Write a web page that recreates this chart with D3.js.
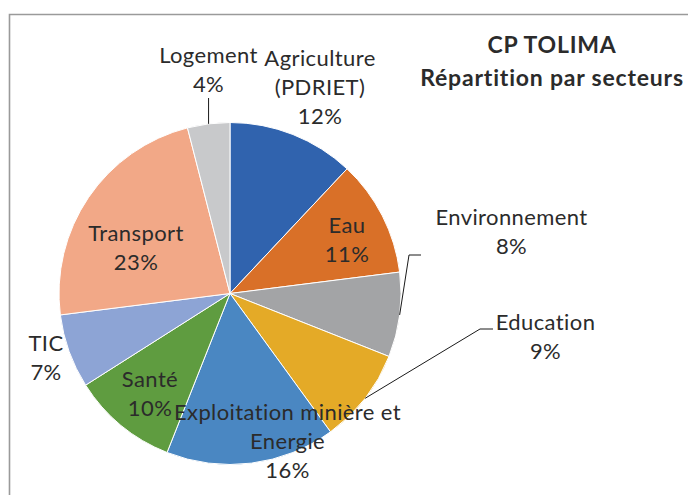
<!DOCTYPE html>
<html>
<head>
<meta charset="utf-8">
<script src="https://cdn.jsdelivr.net/npm/d3@7"></script>
<style>
  html, body { margin: 0; padding: 0; background: #fff; }
  svg { display: block; }
  text { font-family: Lato, "Open Sans", sans-serif; fill: #2b2b2b; }
</style>
</head>
<body>
<svg id="chart" width="688" height="495"></svg>
<script>
// Sector shares (%) of the CP Tolima portfolio, clockwise from 12 o'clock
const categories = ["Agriculture (PDRIET)", "Eau", "Environnement", "Education",
  "Exploitation minière et Energie", "Santé", "TIC", "Transport", "Logement"];
const shares = [12, 11, 8, 9, 16, 10, 7, 23, 4];
// Label text split into lines as displayed
const labelLines = [["Agriculture", "(PDRIET)"], ["Eau"], ["Environnement"], ["Education"],
  ["Exploitation minière et", "Energie"], ["Santé"], ["TIC"], ["Transport"], ["Logement"]];
const sliceColors = ["#3063ae", "#d97028", "#a3a4a6", "#e4aa27", "#4a87c2",
  "#5f9c40", "#8da4d5", "#f2a887", "#c8c9cb"];
const titleLines = ["CP TOLIMA", "Répartition par secteurs"];

// Layout: label anchors (centre x, first baseline y) and leader-line bends
const labelAnchors = [[320, 66], [347, 233], [511.5, 225], [545.5, 330], [287.5, 420],
  [150, 387], [46, 351], [136, 241], [208.5, 63]];
const leaderBends = { 2: [[409, 255], [421, 255]], 3: [[480, 329], [493, 329]], 8: "up" };

const W = 688, H = 495;
const cx = 230, cy = 293.5, R = 171;
const lineGap = 29;
const svg = d3.select("#chart");

// Chart frame (only the top and left edges fall inside the view)
svg.append("path")
  .attr("d", `M9.5,${H} V14.5 H${W}`)
  .attr("fill", "none").attr("stroke", "#9a9a9a").attr("stroke-width", 1.6);

const pie = d3.pie().sort(null).value(d => d)(shares);
const arc = d3.arc().innerRadius(0).outerRadius(R);
const g = svg.append("g").attr("transform", `translate(${cx},${cy})`);

g.selectAll("path.slice").data(pie).join("path")
  .attr("class", "slice")
  .attr("d", arc)
  .attr("fill", (d, i) => sliceColors[i])
  .attr("stroke", "#ffffff").attr("stroke-width", 1);

// Leader lines from slice rim to outside labels
const rimPoint = d => {
  const a = (d.startAngle + d.endAngle) / 2;
  return [cx + R * Math.sin(a), cy - R * Math.cos(a)];
};
Object.keys(leaderBends).forEach(k => {
  const i = +k;
  const p = rimPoint(pie[i]);
  const bends = leaderBends[k] === "up" ? [[p[0], labelAnchors[i][1] + lineGap + 6]] : leaderBends[k];
  svg.append("path")
    .attr("d", d3.line()([p, ...bends]))
    .attr("fill", "none").attr("stroke", "#1a1a1a").attr("stroke-width", 1);
});

// Data labels: name lines + percentage
const labels = svg.append("g").attr("font-size", 22).attr("letter-spacing", 0.4)
  .attr("text-anchor", "middle");
shares.forEach((v, i) => {
  const lines = [...labelLines[i], `${v}%`];
  const [x, y] = labelAnchors[i];
  const t = labels.append("text");
  lines.forEach((s, j) => {
    t.append("tspan").attr("x", x).attr("y", y + j * lineGap).text(s);
  });
});

// Title
const title = svg.append("g").attr("font-size", 23).attr("font-weight", 700)
  .attr("letter-spacing", 0.8).attr("text-anchor", "middle");
titleLines.forEach((s, j) => {
  title.append("text").attr("x", 552).attr("y", 53 + j * 33).text(s);
});
</script>
</body>
</html>
